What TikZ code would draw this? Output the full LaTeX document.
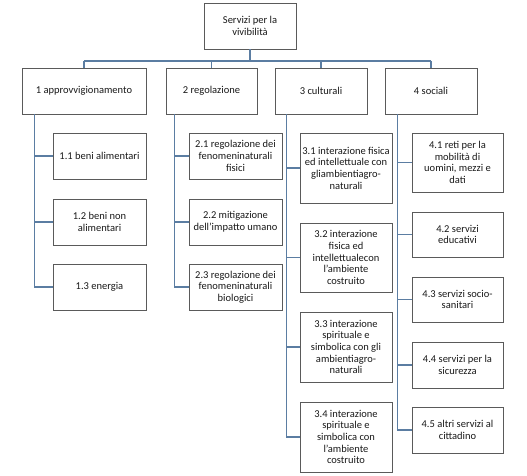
\documentclass[tikz,border=0pt]{standalone}
\usepackage{fontspec}
\setmainfont{Carlito}
\definecolor{boxline}{HTML}{5A5A5A}
\definecolor{connline}{HTML}{5B7DA2}
\begin{document}
\begin{tikzpicture}[x=1pt,y=1pt,
  box/.style={draw=boxline,line width=0.8pt,fill=white,align=center,inner sep=0pt,
    font=\fontsize{10.5}{11.7}\selectfont,text=black!90},
  conn/.style={draw=connline,line width=1.1pt}]
\useasboundingbox (0,0) rectangle (527,475);
\fill[white] (0,0) rectangle (527,475);
% root
\node[box,minimum width=92,minimum height=46] (root) at (250,449) {Servizi per la\\vivibilità};
% level 1
\node[box,minimum width=124,minimum height=46] (a) at (84,384) {1 approvvigionamento};
\node[box,minimum width=91,minimum height=46] (b) at (211.5,384) {2 regolazione};
\node[box,minimum width=92,minimum height=46] (c) at (321,384) {3 culturali};
\node[box,minimum width=92,minimum height=46] (d) at (431,384) {4 sociali};
% column 1
\node[box,minimum width=93,minimum height=46] (a1) at (99.5,319) {1.1 beni alimentari};
\node[box,minimum width=93,minimum height=46] (a2) at (99.5,253) {1.2 beni non\\alimentari};
\node[box,minimum width=93,minimum height=46] (a3) at (99.5,188) {1.3 energia};
% column 2
\node[box,minimum width=93,minimum height=46] (b1) at (235.5,319) {2.1 regolazione dei\\fenomeninaturali\\fisici};
\node[box,minimum width=93,minimum height=46] (b2) at (235.5,253) {2.2 mitigazione\\dell'impatto umano};
\node[box,minimum width=93,minimum height=46] (b3) at (235.5,188) {2.3 regolazione dei\\fenomeninaturali\\biologici};
% column 3
\node[box,minimum width=92,minimum height=70] (c1) at (346,307) {3.1 interazione fisica\\ed intellettuale con\\gliambientiagro-\\naturali};
\node[box,minimum width=92,minimum height=69] (c2) at (346,217.5) {3.2 interazione\\fisica ed\\intellettualecon\\l'ambiente\\costruito};
\node[box,minimum width=92,minimum height=70] (c3) at (346,128) {3.3 interazione\\spirituale e\\simbolica con gli\\ambientiagro-\\naturali};
\node[box,minimum width=92,minimum height=70] (c4) at (346,38) {3.4 interazione\\spirituale e\\simbolica con\\l'ambiente\\costruito};
% column 4
\node[box,minimum width=91,minimum height=59] (d1) at (457.5,312.5) {4.1 reti per la\\mobilità di\\uomini, mezzi e\\dati};
\node[box,minimum width=91,minimum height=45] (d2) at (457.5,240.5) {4.2 servizi\\educativi};
\node[box,minimum width=91,minimum height=45] (d3) at (457.5,175.5) {4.3 servizi socio-\\sanitari};
\node[box,minimum width=91,minimum height=46] (d4) at (457.5,110) {4.4 servizi per la\\sicurezza};
\node[box,minimum width=91,minimum height=46] (d5) at (457.5,45) {4.5 altri servizi al\\cittadino};
% bus
\coordinate (bus) at (0,414);
\draw[conn] (root.south) -- (root.south |- bus);
\draw[conn] (a.north |- bus) -- (d.north |- bus);
\foreach \n in {a,b,c,d} \draw[conn] (\n.north |- bus) -- (\n.north);
% column connectors
\foreach \k in {a1,a2,a3} \draw[conn] ([xshift=13pt]a.south west) |- (\k.west);
\foreach \k in {b1,b2,b3} \draw[conn] ([xshift=9pt]b.south west) |- (\k.west);
\foreach \k in {c1,c2,c3,c4} \draw[conn] ([xshift=12pt]c.south west) |- (\k.west);
\foreach \k in {d1,d2,d3,d4,d5} \draw[conn] ([xshift=13pt]d.south west) |- (\k.west);
\end{tikzpicture}
\end{document}
